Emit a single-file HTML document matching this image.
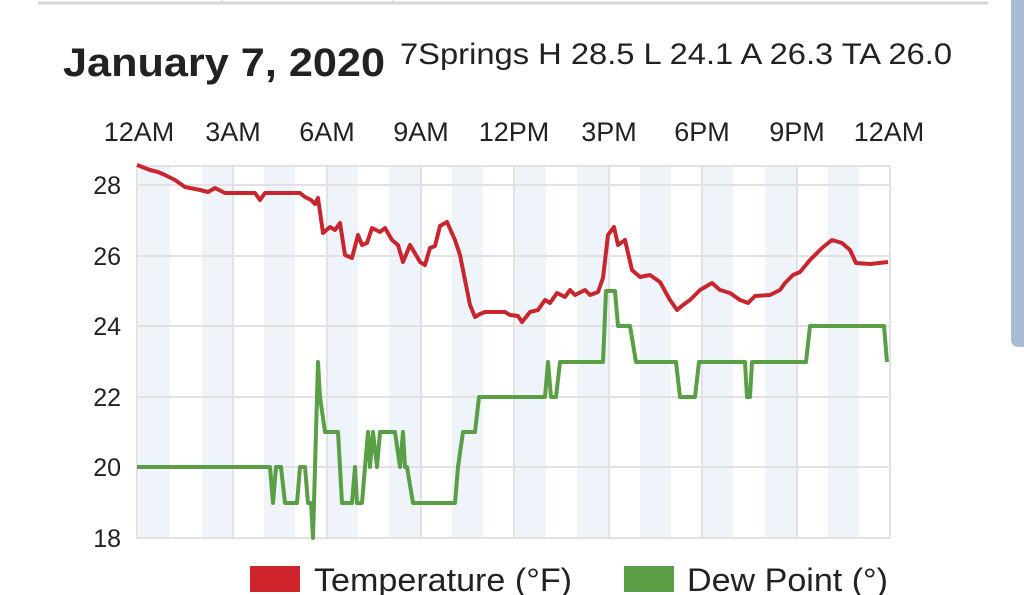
<!DOCTYPE html>
<html><head><meta charset="utf-8"><style>
html,body{margin:0;padding:0;background:#fff;width:1024px;height:595px;overflow:hidden}
svg{display:block;font-family:"Liberation Sans",sans-serif}
</style></head><body>
<svg width="1024" height="595" viewBox="0 0 1024 595">
<line x1="38" y1="3" x2="988" y2="3" stroke="#d6d6d6" stroke-width="3"/>
<line x1="222" y1="0" x2="222" y2="3" stroke="#ccc"/>
<line x1="393" y1="0" x2="393" y2="3" stroke="#ccc"/>
<path d="M1011 0 H1024 V347 H1019 Q1011 347 1011 339 Z" fill="#a8bdd4"/>
<text x="63" y="76" font-size="40" font-weight="bold" fill="#222" textLength="322" lengthAdjust="spacingAndGlyphs">January 7, 2020</text>
<text x="400" y="64" font-size="30" fill="#222" textLength="552" lengthAdjust="spacingAndGlyphs">7Springs H 28.5 L 24.1 A 26.3 TA 26.0</text>
<g font-size="27" fill="#222" text-anchor="middle">
<text x="139" y="141">12AM</text><text x="233" y="141">3AM</text><text x="327" y="141">6AM</text>
<text x="421" y="141">9AM</text><text x="514" y="141">12PM</text><text x="609" y="141">3PM</text>
<text x="702" y="141">6PM</text><text x="797" y="141">9PM</text><text x="889" y="141">12AM</text>
</g>
<g fill="#eef4fa">
<rect x="139" y="166" width="31" height="372"/><rect x="202" y="166" width="31" height="372"/>
<rect x="264" y="166" width="31" height="372"/><rect x="327" y="166" width="31" height="372"/>
<rect x="389" y="166" width="31" height="372"/><rect x="452" y="166" width="31" height="372"/>
<rect x="515" y="166" width="31" height="372"/><rect x="577" y="166" width="31" height="372"/>
<rect x="640" y="166" width="31" height="372"/><rect x="702" y="166" width="31" height="372"/>
<rect x="765" y="166" width="31" height="372"/><rect x="828" y="166" width="31" height="372"/>
</g>
<g stroke="#e2e2e2" stroke-width="2" fill="none">
<rect x="137" y="166" width="753" height="372"/>
<line x1="137" y1="185" x2="890" y2="185"/><line x1="137" y1="256" x2="890" y2="256"/>
<line x1="137" y1="326" x2="890" y2="326"/><line x1="137" y1="397" x2="890" y2="397"/>
<line x1="137" y1="467" x2="890" y2="467"/>
<line x1="233" y1="166" x2="233" y2="538"/><line x1="327" y1="166" x2="327" y2="538"/>
<line x1="421" y1="166" x2="421" y2="538"/><line x1="514" y1="166" x2="514" y2="538"/>
<line x1="609" y1="166" x2="609" y2="538"/><line x1="702" y1="166" x2="702" y2="538"/>
<line x1="797" y1="166" x2="797" y2="538"/>
</g>
<g font-size="25" fill="#222" text-anchor="end">
<text x="121" y="194">28</text><text x="121" y="265">26</text><text x="121" y="335">24</text>
<text x="121" y="406">22</text><text x="121" y="476">20</text><text x="121" y="547">18</text>
</g>
<polyline fill="none" stroke="#5a9e46" stroke-width="4" stroke-linejoin="round" points="137,467 270,467 273,503 276,467 281,467 285,503 297,503 300,467 305,467 308,503 311,503 313,538 318,362 320,397 325,432 338,432 342,503 352,503 355,467 357,503 362,503 365,467 368,432 370,467 373,432 377,467 380,432 395,432 400,467 403,432 405,467 407,467 413,503 455,503 458,467 463,432 475,432 479,397 545,397 548,362 551,397 556,397 560,362 603,362 606,291 615,291 618,326 630,326 636,362 676,362 680,397 695,397 699,362 745,362 747,397 750,397 752,362 806,362 810,326 884,326 887,362"/>
<polyline fill="none" stroke="#c8262e" stroke-width="4" stroke-linejoin="round" points="137,165 150,170 158,172 165,175 175,180 185,187 200,190 208,192 215,188 225,193 255,193 260,200 265,193 300,193 305,197 311,200 315,204 318,198 323,233 330,227 335,230 340,223 345,255 352,258 358,235 362,245 367,243 372,228 380,232 385,228 392,240 398,245 403,262 410,245 416,255 420,262 425,265 430,248 435,246 440,226 447,222 455,240 460,255 465,280 470,305 475,317 480,314 485,312 505,312 510,315 518,316 522,322 530,312 538,310 545,300 550,303 557,293 565,297 570,290 575,295 585,290 590,295 598,292 603,278 608,235 614,227 618,245 625,240 632,270 640,277 650,275 660,282 670,300 677,310 683,305 690,300 700,290 712,283 720,290 730,293 740,300 748,303 755,296 770,295 780,290 785,283 793,275 800,272 810,260 822,248 832,240 842,243 850,250 856,263 870,264 888,262"/>
<rect x="250" y="566" width="50" height="26" fill="#d0242c"/>
<text x="314" y="591" font-size="32" fill="#222" textLength="258" lengthAdjust="spacingAndGlyphs">Temperature (°F)</text>
<rect x="624" y="566" width="50" height="26" fill="#5a9e46"/>
<text x="687" y="591" font-size="32" fill="#222" textLength="201" lengthAdjust="spacingAndGlyphs">Dew Point (°)</text>
</svg>
</body></html>
